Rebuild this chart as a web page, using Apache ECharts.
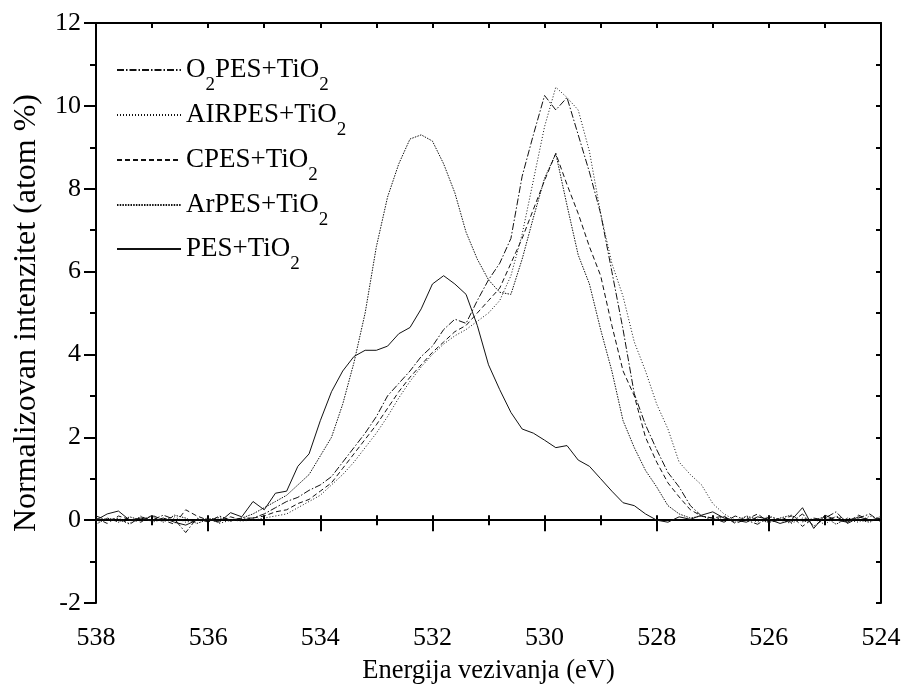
<!DOCTYPE html>
<html>
<head>
<meta charset="utf-8">
<script src="https://cdn.jsdelivr.net/npm/echarts@6/dist/echarts.min.js"></script>
<style>html,body{margin:0;padding:0;background:#fff}#c{width:901px;height:693px}</style>
</head>
<body>
<div id="c"></div>
<script>
const energies = [538.0,537.8,537.6,537.4,537.2,537.0,536.8,536.6,536.4,536.2,536.0,535.8,535.6,535.4,535.2,535.0,534.8,534.6,534.4,534.2,534.0,533.8,533.6,533.4,533.2,533.0,532.8,532.6,532.4,532.2,532.0,531.8,531.6,531.4,531.2,531.0,530.8,530.6,530.4,530.2,530.0,529.8,529.6,529.4,529.2,529.0,528.8,528.6,528.4,528.2,528.0,527.8,527.6,527.4,527.2,527.0,526.8,526.6,526.4,526.2,526.0,525.8,525.6,525.4,525.2,525.0,524.8,524.6,524.4,524.2,524.0];

const o2pes = [0.1,0.0,0.05,-0.1,0.08,0.0,0.12,0.02,-0.3,0.05,-0.05,0.1,0.0,0.05,
  0.05,0.15,0.3,0.45,0.55,0.72,0.85,1.05,1.4,1.75,2.1,2.5,3.0,3.3,3.6,3.95,4.2,4.6,4.85,4.75,5.3,5.8,6.2,6.8,8.3,9.3,10.25,9.9,10.2,9.3,8.4,7.4,6.0,4.6,3.05,2.3,1.7,1.15,0.8,0.35,0.1,
  0.05,-0.05,0.1,0.0,-0.1,0.08,0.02,-0.05,0.15,-0.15,0.05,0.2,-0.08,0.05,0.15,-0.05];

const airpes = [-0.05,0.05,0.0,-0.08,0.1,-0.05,0.02,0.08,-0.05,0.0,0.05,-0.08,0.0,-0.02,
  0.0,0.05,0.1,0.15,0.3,0.45,0.6,0.85,1.1,1.4,1.75,2.1,2.5,2.95,3.35,3.7,4.0,4.25,4.45,4.6,4.8,5.0,5.3,5.9,6.9,8.2,9.5,10.45,10.2,9.9,8.9,7.4,6.2,5.4,4.3,3.6,2.8,2.2,1.4,1.1,0.85,0.4,0.15,
  0.0,0.08,-0.05,0.1,0.0,-0.08,0.05,0.02,-0.1,0.1,0.0,-0.05,0.1,0.02];

const cpes = [0.05,-0.08,0.1,0.02,-0.05,0.12,0.0,-0.1,0.25,0.1,0.0,-0.02,0.08,0.0,
  0.05,0.1,0.2,0.25,0.4,0.5,0.7,0.9,1.25,1.6,1.95,2.3,2.7,3.1,3.45,3.75,4.05,4.3,4.55,4.7,5.0,5.3,5.6,6.2,6.8,7.5,8.2,8.85,8.1,7.4,6.6,5.9,4.7,3.6,3.0,2.0,1.4,0.9,0.56,0.25,0.1,
  0.05,0.1,-0.08,0.02,0.15,-0.05,0.0,0.1,-0.15,0.05,0.0,0.08,-0.05,0.12,0.0,0.05];

const arpes = [-0.1,0.05,-0.05,0.08,0.0,0.1,-0.05,0.12,0.05,-0.08,0.02,0.06,-0.03,0.05,
  0.15,0.3,0.45,0.6,0.85,1.1,1.55,2.0,2.8,3.8,5.0,6.6,7.8,8.6,9.2,9.3,9.15,8.6,7.9,6.95,6.3,5.8,5.5,5.45,6.3,7.3,8.25,8.85,7.6,6.4,5.7,4.6,3.6,2.4,1.75,1.2,0.8,0.35,0.15,0.05,0.1,
  0.0,0.08,-0.05,0.1,0.02,-0.06,0.05,0.12,-0.04,0.0,0.08,-0.1,0.05,0.0,-0.05,0.1];

const pes = [0.0,0.15,0.22,0.0,0.05,-0.02,0.05,-0.05,-0.12,0.0,0.02,-0.05,0.18,0.08,
  0.45,0.25,0.65,0.7,1.3,1.6,2.4,3.1,3.6,3.95,4.1,4.1,4.2,4.5,4.65,5.1,5.7,5.9,5.7,5.45,4.7,3.75,3.15,2.6,2.2,2.1,1.93,1.75,1.8,1.45,1.3,1.0,0.7,0.42,0.35,0.15,0.0,-0.05,0.08,0.02,0.12,
  0.2,0.05,0.0,-0.05,0.08,0.02,-0.08,0.0,0.3,-0.2,0.12,0.0,-0.05,0.08,0.0,0.05];

const seriesNames = ['O2PES+TiO2','AIRPES+TiO2','CPES+TiO2','ArPES+TiO2','PES+TiO2'];
const legendRich = {
  'O2PES+TiO2': '{a|O}{s|2}{a|PES+TiO}{s|2}',
  'AIRPES+TiO2': '{a|AIRPES+TiO}{s|2}',
  'CPES+TiO2': '{a|CPES+TiO}{s|2}',
  'ArPES+TiO2': '{a|ArPES+TiO}{s|2}',
  'PES+TiO2': '{a|PES+TiO}{s|2}'
};
const seriesValues = [o2pes, airpes, cpes, arpes, pes];
const dashTypes = [[7,2,1.5,2],[1,2],[5,3],[1.5,1.2],'solid'];
const legendRows = [68, 113, 158, 203, 247];

const xTicks = {min:524, max:538, interval:2};
const yTicks = {min:-2, max:12, interval:2};

const FONT = '"Liberation Serif", "DejaVu Serif", serif';
const chart = echarts.init(document.getElementById('c'), null, {renderer:'canvas'});

const series = seriesNames.map((n, k) => ({
  name: n,
  type: 'line',
  xAxisIndex: 0,
  yAxisIndex: 0,
  showSymbol: false,
  symbol: 'none',
  animation: false,
  data: energies.map((e, i) => [e, seriesValues[k][i]]),
  lineStyle: {color:'#111', width:1, type: dashTypes[k]},
  itemStyle: {color:'#111'}
}));

const legends = seriesNames.map((n, k) => ({
  orient: 'vertical',
  left: 116,
  top: legendRows[k] - 11.5,
  padding: 0,
  itemWidth: 64,
  itemHeight: 2,
  data: [n],
  selectedMode: false,
  itemStyle: {color:'rgba(0,0,0,0)', borderColor:'rgba(0,0,0,0)', borderWidth:0},
  formatter: nm => legendRich[nm],
  textStyle: {
    fontFamily: FONT,
    color: '#000',
    rich: {
      a: {fontSize: 27, fontFamily: FONT, color:'#000', verticalAlign:'middle', lineHeight: 49},
      s: {fontSize: 19, fontFamily: FONT, color:'#000', verticalAlign:'bottom', lineHeight: 20}
    }
  }
}));

const axisLine = {show:true, lineStyle:{color:'#000', width:2}};
chart.setOption({
  animation: false,
  backgroundColor: '#fff',
  textStyle: {fontFamily: FONT},
  grid: {left:96, right:20, top:23, bottom:90, containLabel:false, outerBoundsMode:'none'},
  legend: legends,
  xAxis: [
    {type:'value', position:'bottom', inverse:true, min:xTicks.min, max:xTicks.max, interval:xTicks.interval,
      name:'Energija vezivanja (eV)', nameLocation:'middle', nameGap:55,
      nameTextStyle:{fontFamily:FONT, fontSize:26.5, color:'#000'},
      axisLine: axisLine,
      axisTick:{show:true, inside:false, length:11, lineStyle:{color:'#000', width:2}},
      minorTick:{show:true, splitNumber:2, length:5, lineStyle:{color:'#000', width:2}},
      axisLabel:{fontFamily:FONT, fontSize:26, color:'#000', margin:22},
      splitLine:{show:false}},
    {type:'value', position:'bottom', inverse:true, min:xTicks.min, max:xTicks.max, interval:1,
      axisLine:{show:false}, axisLabel:{show:false}, splitLine:{show:false},
      axisTick:{show:true, inside:true, length:5, lineStyle:{color:'#000', width:2}}},
    {type:'value', position:'top', inverse:true, min:xTicks.min, max:xTicks.max, interval:1,
      axisLine: axisLine, axisLabel:{show:false}, splitLine:{show:false},
      axisTick:{show:true, inside:true, length:5, lineStyle:{color:'#000', width:2}}}
  ],
  yAxis: [
    {type:'value', position:'left', min:yTicks.min, max:yTicks.max, interval:yTicks.interval,
      name:'Normalizovan intenzitet (atom %)', nameLocation:'middle', nameGap:53,
      nameTextStyle:{fontFamily:FONT, fontSize:32, color:'#000'},
      axisLine: axisLine,
      axisTick:{show:true, inside:false, length:12, lineStyle:{color:'#000', width:2}},
      minorTick:{show:true, splitNumber:2, length:6, lineStyle:{color:'#000', width:2}},
      axisLabel:{fontFamily:FONT, fontSize:26, color:'#000', margin:15},
      splitLine:{show:false}},
    {type:'value', position:'right', min:yTicks.min, max:yTicks.max, interval:1,
      axisLine: axisLine, axisLabel:{show:false}, splitLine:{show:false},
      axisTick:{show:true, inside:true, length:5, lineStyle:{color:'#000', width:2}}}
  ],
  series: series
});
</script>
</body>
</html>
